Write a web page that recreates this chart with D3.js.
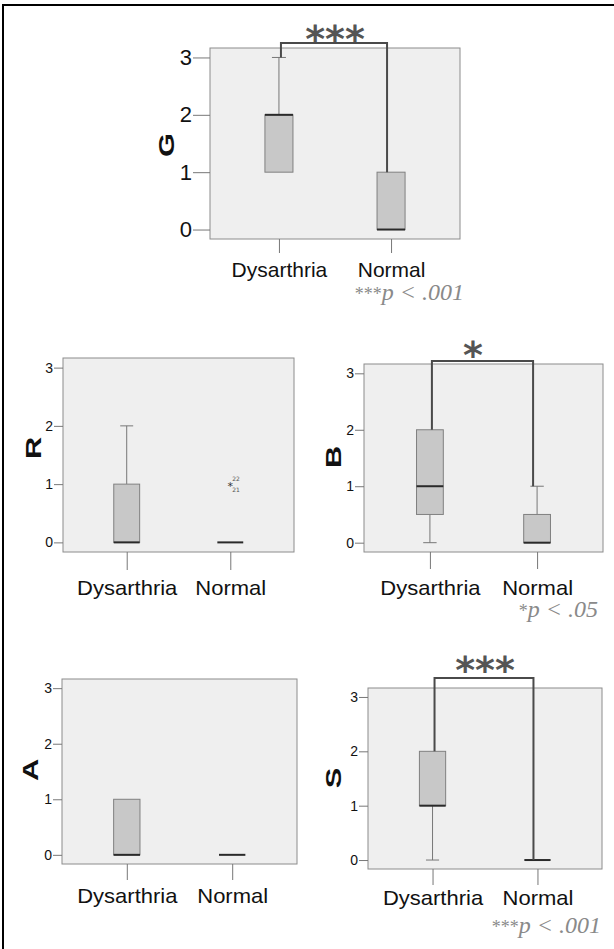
<!DOCTYPE html>
<html>
<head>
<meta charset="utf-8">
<script src="https://cdn.jsdelivr.net/npm/d3@7/dist/d3.min.js"></script>
<style>
  html, body { margin: 0; padding: 0; background: #fff; }
  svg { display: block; }
</style>
</head>
<body>
<svg id="chart" width="614" height="949"></svg>
<script>
// Groups compared in every panel
const categories = ["Dysarthria", "Normal"];

// Box statistics per rating scale, one entry per group: whisker low, Q1, median, Q3, whisker high
const statsG = [{lo: 1, q1: 1, med: 2, q3: 2, hi: 3}, {lo: 0, q1: 0, med: 0, q3: 1, hi: 1}];
const statsR = [{lo: 0, q1: 0, med: 0, q3: 1, hi: 2}, {lo: 0, q1: 0, med: 0, q3: 0, hi: 0}];
const statsB = [{lo: 0, q1: 0.5, med: 1, q3: 2, hi: 2}, {lo: 0, q1: 0, med: 0, q3: 0.5, hi: 1}];
const statsA = [{lo: 0, q1: 0, med: 0, q3: 1, hi: 1}, {lo: 0, q1: 0, med: 0, q3: 0, hi: 0}];
const statsS = [{lo: 0, q1: 1, med: 1, q3: 2, hi: 2}, {lo: 0, q1: 0, med: 0, q3: 0, hi: 0}];

// Extreme values flagged with case numbers
const outliersR = [{group: "Normal", value: 1, cases: ["22", "21"]}];

// Axis ticks
const yTicks = [0, 1, 2, 3];
const yDomain = [-0.165, 3.165];

// Significance marks and notes
const sigMarks = {G: "***", B: "*", S: "***"};
const pStars = {G: "***", B: "*", S: "***"};
const pTexts = {G: "p < .001", B: "p < .05", S: "p < .001"};

const panels = [
  {name: "G", stats: statsG, outliers: [], x: 210, y: 48, w: 250, h: 191,
   tickLen: 17, tickFont: 22, xTickLen: 14, xLabelY: 277, xFont: 21, xStretch: 1.0,
   labelPos: [166, 145], labelFont: 22, bracketY: 43, starY: 52, starX: 335, pPos: [464, 300]},
  {name: "R", stats: statsR, outliers: outliersR, x: 63, y: 358, w: 231, h: 194,
   tickLen: 9, tickFont: 14, xTickLen: 18, xLabelY: 595, xFont: 20, xStretch: 1.1,
   labelPos: [33, 448], labelFont: 22},
  {name: "B", stats: statsB, outliers: [], x: 364, y: 364, w: 239, h: 188,
   tickLen: 9, tickFont: 14, xTickLen: 17, xLabelY: 595, xFont: 20, xStretch: 1.1,
   labelPos: [333, 457], labelFont: 22, bracketY: 361, starY: 368, starX: 473, pPos: [598, 617]},
  {name: "A", stats: statsA, outliers: [], x: 62, y: 679, w: 235, h: 185,
   tickLen: 9, tickFont: 14, xTickLen: 16, xLabelY: 903, xFont: 20, xStretch: 1.1,
   labelPos: [30, 770], labelFont: 22},
  {name: "S", stats: statsS, outliers: [], x: 368, y: 688, w: 234, h: 181,
   tickLen: 9, tickFont: 14, xTickLen: 16, xLabelY: 905, xFont: 20, xStretch: 1.1,
   labelPos: [333, 778], labelFont: 22, bracketY: 678, starY: 683, starX: 485, pPos: [601, 933]}
];

const svg = d3.select("#chart");

// Page frame (top and left edges)
svg.append("path")
  .attr("d", "M3,949 V5 H614")
  .attr("fill", "none").attr("stroke", "#000").attr("stroke-width", 2);

panels.forEach(p => {
  const g = svg.append("g");
  const x = d3.scalePoint().domain(categories).range([p.x, p.x + p.w]).padding(0.615);
  const y = d3.scaleLinear().domain(yDomain).range([p.y + p.h, p.y]);
  const bw = x.step() * 0.25;

  // Plot background
  g.append("rect")
    .attr("x", p.x).attr("y", p.y).attr("width", p.w).attr("height", p.h)
    .attr("fill", "#efefef").attr("stroke", "#8c8c8c").attr("stroke-width", 1);

  // Y axis
  const ya = g.append("g")
    .attr("transform", `translate(${p.x},0)`)
    .call(d3.axisLeft(y).tickValues(yTicks).tickSize(p.tickLen).tickPadding(1).tickFormat(d3.format("d")));
  ya.select(".domain").remove();
  ya.selectAll(".tick line").attr("stroke", "#777");
  ya.selectAll(".tick text")
    .attr("font-family", "Liberation Sans, Arial, sans-serif")
    .attr("font-size", p.tickFont).attr("fill", "#111");

  // X axis
  const xa = g.append("g")
    .attr("transform", `translate(0,${p.y + p.h})`)
    .call(d3.axisBottom(x).tickSize(p.xTickLen).tickPadding(0));
  xa.select(".domain").remove();
  xa.selectAll(".tick line").attr("stroke", "#777");
  xa.selectAll(".tick text")
    .attr("y", p.xLabelY - (p.y + p.h)).attr("dy", 0)
    .attr("transform", `scale(${p.xStretch},1)`)
    .attr("font-family", "Liberation Sans, Arial, sans-serif")
    .attr("font-size", p.xFont).attr("fill", "#111");

  // Y axis title
  g.append("text")
    .attr("transform", `translate(${p.labelPos[0]},${p.labelPos[1]}) rotate(-90) scale(1.4,1)`)
    .attr("text-anchor", "middle").attr("dy", "0.36em")
    .attr("font-family", "Liberation Sans, Arial, sans-serif")
    .attr("font-weight", "bold").attr("font-size", p.labelFont).attr("fill", "#111")
    .text(p.name);

  // Boxes
  p.stats.forEach((s, i) => {
    const cx = x(categories[i]);
    const wl = "#777";
    if (s.hi > s.q3) {
      g.append("line").attr("x1", cx).attr("x2", cx).attr("y1", y(s.q3)).attr("y2", y(s.hi)).attr("stroke", wl);
      g.append("line").attr("x1", cx - bw / 4).attr("x2", cx + bw / 4).attr("y1", y(s.hi)).attr("y2", y(s.hi)).attr("stroke", wl);
    }
    if (s.lo < s.q1) {
      g.append("line").attr("x1", cx).attr("x2", cx).attr("y1", y(s.q1)).attr("y2", y(s.lo)).attr("stroke", wl);
      g.append("line").attr("x1", cx - bw / 4).attr("x2", cx + bw / 4).attr("y1", y(s.lo)).attr("y2", y(s.lo)).attr("stroke", wl);
    }
    if (s.q3 > s.q1) {
      g.append("rect")
        .attr("x", cx - bw / 2).attr("y", y(s.q3)).attr("width", bw).attr("height", y(s.q1) - y(s.q3))
        .attr("fill", "#c8c8c8").attr("stroke", "#808080").attr("stroke-width", 1);
    }
    g.append("line")
      .attr("x1", cx - bw / 2).attr("x2", cx + bw / 2).attr("y1", y(s.med)).attr("y2", y(s.med))
      .attr("stroke", "#2a2a2a").attr("stroke-width", 2);
  });

  // Extreme values
  p.outliers.forEach(o => {
    const ox = x(o.group), oy = y(o.value);
    g.append("text").attr("x", ox).attr("y", oy + 6).attr("text-anchor", "middle")
      .attr("font-family", "DejaVu Sans, sans-serif").attr("font-size", 11).attr("fill", "#333").text("*");
    g.append("text").attr("x", ox + 2).attr("y", oy - 3)
      .attr("font-family", "DejaVu Sans, sans-serif").attr("font-size", 6).attr("fill", "#555").text(o.cases[0]);
    g.append("text").attr("x", ox + 2).attr("y", oy + 8)
      .attr("font-family", "DejaVu Sans, sans-serif").attr("font-size", 6).attr("fill", "#555").text(o.cases[1]);
  });

  // Significance bracket and note
  if (sigMarks[p.name]) {
    const xl = x(categories[0]) + 2, xr = x(categories[1]) - 4;
    const yl = y(p.stats[0].hi), yr = y(p.stats[1].hi);
    g.append("path")
      .attr("d", `M${xl},${yl} V${p.bracketY} H${xr} V${yr}`)
      .attr("fill", "none").attr("stroke", "#4a4a4a").attr("stroke-width", 2);
    g.append("text")
      .attr("x", p.starX).attr("y", p.starY).attr("text-anchor", "middle")
      .attr("font-family", "DejaVu Sans, sans-serif").attr("font-weight", "bold")
      .attr("font-size", 38).attr("fill", "#555")
      .text(sigMarks[p.name]);
    const note = g.append("text")
      .attr("x", p.pPos[0]).attr("y", p.pPos[1]).attr("text-anchor", "end")
      .attr("font-family", "Liberation Serif, Times New Roman, serif").attr("font-style", "italic")
      .attr("fill", "#8a8a8a");
    note.append("tspan").attr("font-size", 18).attr("font-style", "normal").text(pStars[p.name]);
    note.append("tspan").attr("font-size", 24).text(pTexts[p.name]);
  }
});
</script>
</body>
</html>
